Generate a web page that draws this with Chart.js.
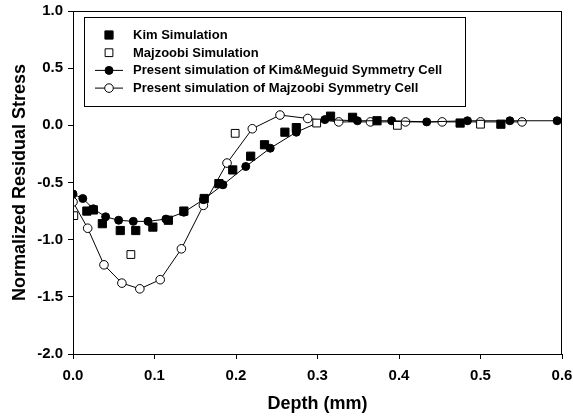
<!DOCTYPE html>
<html lang="en">
<head>
<meta charset="utf-8" />
<title>Normalized Residual Stress vs Depth</title>
<script src="https://cdn.jsdelivr.net/npm/chart.js"></script>
<style>
  html, body { margin: 0; padding: 0; background: #fff; }
  #wrap { width: 573px; height: 420px; }
</style>
</head>
<body>
<div id="wrap"><canvas id="stressChart" width="573" height="420"></canvas></div>
<script>
// Kim Simulation (filled squares)
const kimSimDepth = [0.017, 0.025, 0.036, 0.058, 0.077, 0.098, 0.117, 0.136, 0.161, 0.179, 0.196, 0.218, 0.235, 0.260, 0.274, 0.316, 0.343, 0.373, 0.475, 0.525];
const kimSimStress = [-0.75, -0.74, -0.86, -0.92, -0.92, -0.89, -0.83, -0.75, -0.64, -0.51, -0.39, -0.27, -0.17, -0.06, -0.02, 0.08, 0.07, 0.04, 0.02, 0.01];

// Majzoobi Simulation (open squares)
const majSimDepth = [0.001, 0.071, 0.199, 0.299, 0.398, 0.500];
const majSimStress = [-0.79, -1.13, -0.07, 0.02, 0.00, 0.01];

// Present simulation of Kim&Meguid Symmetry Cell (filled circles + line)
const kimCellDepth = [0.0, 0.012, 0.025, 0.040, 0.056, 0.074, 0.092, 0.114, 0.136, 0.160, 0.184, 0.212, 0.242, 0.274, 0.309, 0.349, 0.391, 0.434, 0.484, 0.536, 0.594];
const kimCellStress = [-0.60, -0.64, -0.73, -0.80, -0.83, -0.84, -0.84, -0.82, -0.76, -0.65, -0.52, -0.36, -0.20, -0.06, 0.05, 0.04, 0.04, 0.03, 0.04, 0.04, 0.04];

// Present simulation of Majzoobi Symmetry Cell (open circles + line)
const majCellDepth = [0.0, 0.018, 0.038, 0.060, 0.082, 0.107, 0.133, 0.160, 0.189, 0.220, 0.254, 0.288, 0.326, 0.365, 0.408, 0.453, 0.500, 0.551];
const majCellStress = [-0.67, -0.90, -1.22, -1.38, -1.43, -1.35, -1.08, -0.70, -0.33, -0.03, 0.09, 0.06, 0.03, 0.03, 0.03, 0.03, 0.03, 0.03];

const xTicks = ['0.0', '0.1', '0.2', '0.3', '0.4', '0.5', '0.6'];
const yTicks = ['-2.0', '-1.5', '-1.0', '-0.5', '0.0', '0.5', '1.0'];

const toPoints = (xs, ys) => xs.map((x, i) => ({ x: x, y: ys[i] }));

const FONT = 'Arial, "Liberation Sans", sans-serif';

// legend drawn inside the plot box, like the original figure
const boxLegend = {
  id: 'boxLegend',
  afterDraw(chart) {
    const ctx = chart.ctx;
    const area = chart.chartArea;
    // frame round the plot
    ctx.save();
    ctx.strokeStyle = '#000';
    ctx.lineWidth = 1;
    ctx.strokeRect(Math.round(area.left) + 0.5, Math.round(area.top) + 0.5,
                   Math.round(area.right - area.left) - 1, Math.round(area.bottom - area.top));

    const bx = 84, by = 17, bw = 381, bh = 89;
    ctx.strokeRect(bx + 0.5, by + 0.5, bw, bh);

    ctx.font = 'bold 13px ' + FONT;
    ctx.textBaseline = 'middle';
    ctx.fillStyle = '#000';
    const mx = 109;
    chart.data.datasets.forEach((ds, i) => {
      const y = by + 18 + i * 17.7;
      if (ds.showLine) {
        ctx.beginPath();
        ctx.moveTo(mx - 14, y);
        ctx.lineTo(mx + 14, y);
        ctx.lineWidth = 1;
        ctx.strokeStyle = '#000';
        ctx.stroke();
      }
      ctx.beginPath();
      if (ds.pointStyle === 'rect') {
        const s = ds.pointRadius * Math.SQRT1_2;
        ctx.rect(mx - s, y - s, 2 * s, 2 * s);
      } else {
        ctx.arc(mx, y, ds.pointRadius, 0, Math.PI * 2);
      }
      ctx.fillStyle = ds.pointBackgroundColor;
      ctx.fill();
      ctx.lineWidth = 1;
      ctx.strokeStyle = ds.pointBorderColor;
      ctx.stroke();
      ctx.fillStyle = '#000';
      ctx.fillText(ds.label, 133, y + 0.5);
    });
    ctx.restore();
  }
};

const datasets = [
  {
    label: 'Kim Simulation',
    data: toPoints(kimSimDepth, kimSimStress),
    showLine: false,
    pointStyle: 'rect',
    pointRadius: 5.8,
    pointBackgroundColor: '#000',
    pointBorderColor: '#000',
    pointBorderWidth: 1
  },
  {
    label: 'Majzoobi Simulation',
    data: toPoints(majSimDepth, majSimStress),
    showLine: false,
    pointStyle: 'rect',
    pointRadius: 5.5,
    pointBackgroundColor: '#fff',
    pointBorderColor: '#000',
    pointBorderWidth: 1
  },
  {
    label: 'Present simulation of Kim&Meguid Symmetry Cell',
    data: toPoints(kimCellDepth, kimCellStress),
    showLine: true,
    borderColor: '#000',
    borderWidth: 1,
    pointStyle: 'circle',
    pointRadius: 4,
    pointBackgroundColor: '#000',
    pointBorderColor: '#000',
    pointBorderWidth: 1
  },
  {
    label: 'Present simulation of Majzoobi Symmetry Cell',
    data: toPoints(majCellDepth, majCellStress),
    showLine: true,
    borderColor: '#000',
    borderWidth: 1,
    pointStyle: 'circle',
    pointRadius: 4.3,
    pointBackgroundColor: '#fff',
    pointBorderColor: '#000',
    pointBorderWidth: 1
  }
];

new Chart(document.getElementById('stressChart'), {
  type: 'scatter',
  data: { datasets: datasets },
  options: {
    responsive: false,
    animation: false,
    layout: { padding: 0 },
    plugins: {
      legend: { display: false },
      tooltip: { enabled: false }
    },
    scales: {
      x: {
        type: 'linear',
        min: 0,
        max: 0.6,
        afterFit: (s) => { s.height = 66; s.paddingLeft = 0; s.paddingRight = 11; },
        afterBuildTicks: (s) => { s.ticks = xTicks.map(t => ({ value: parseFloat(t) })); },
        ticks: {
          color: '#000',
          padding: 8,
          maxRotation: 0,
          font: { family: FONT, size: 15, weight: 'bold' },
          callback: (v) => xTicks.find(t => parseFloat(t) === v) || Number(v).toFixed(1)
        },
        grid: { drawOnChartArea: false, drawTicks: true, tickLength: 5, color: '#000' },
        border: { color: '#000', width: 1 },
        title: {
          display: true,
          text: 'Depth (mm)',
          color: '#000',
          font: { family: FONT, size: 18, weight: 'bold' },
          padding: { top: 4, bottom: 5 }
        }
      },
      y: {
        type: 'linear',
        min: -2,
        max: 1,
        afterFit: (s) => { s.width = 73; s.paddingTop = 11; s.paddingBottom = 0; },
        afterBuildTicks: (s) => { s.ticks = yTicks.map(t => ({ value: parseFloat(t) })); },
        ticks: {
          color: '#000',
          padding: 5,
          font: { family: FONT, size: 15, weight: 'bold' },
          callback: (v) => yTicks.find(t => parseFloat(t) === v) || Number(v).toFixed(1)
        },
        grid: { drawOnChartArea: false, drawTicks: true, tickLength: 5, color: '#000' },
        border: { color: '#000', width: 1 },
        title: {
          display: true,
          text: 'Normalized Residual Stress',
          color: '#000',
          font: { family: FONT, size: 18, weight: 'bold' },
          padding: { top: 9, bottom: 0 }
        }
      }
    }
  },
  plugins: [boxLegend]
});
</script>
</body>
</html>
